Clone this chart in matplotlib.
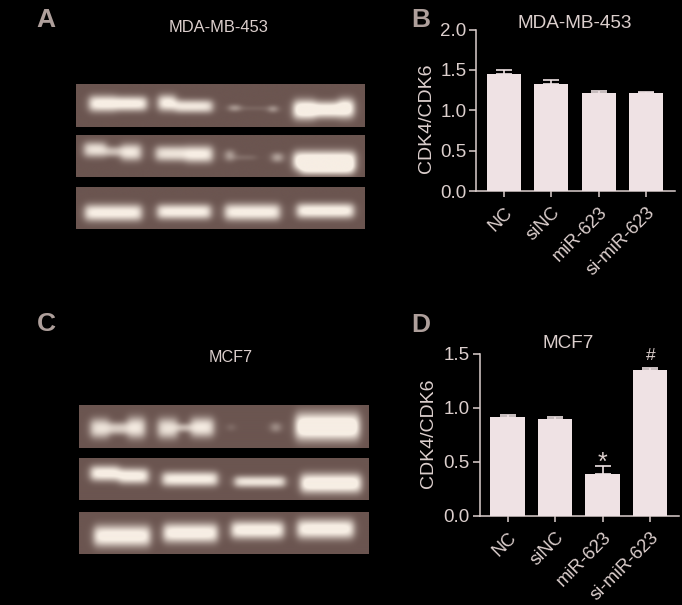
#!/usr/bin/env python

# Two western blot panels and two CDK4/CDK6 bar charts, white on black
import numpy as np
import matplotlib
matplotlib.use('Agg')
import matplotlib.pyplot as plt
from matplotlib.colors import LinearSegmentedColormap

W, H = 682, 605

groups = ['NC', 'siNC', 'miR-623', 'si-miR-623']
mda_values = [1.45, 1.33, 1.21, 1.21]
mda_errors = [0.05, 0.04, 0.03, 0.02]
mcf_values = [0.91, 0.90, 0.39, 1.35]
mcf_errors = [0.02, 0.01, 0.07, 0.02]
mda_ticks = [0.0, 0.5, 1.0, 1.5, 2.0]
mcf_ticks = [0.0, 0.5, 1.0, 1.5]

# Blot bands: x start, x end, y centre, half height, brightness (3x zoom pixels)
mda_blots = [
    [(40, 120, 58, 19, 1.1), (120, 212, 58, 17, 1.1), (248, 300, 56, 19, 1.1),
     (300, 410, 66, 15, 1.0), (462, 492, 71, 7, 0.6), (495, 575, 72, 3, 0.2),
     (582, 603, 74, 7, 0.7), (655, 720, 76, 23, 1.3), (720, 790, 76, 19, 1.2),
     (790, 835, 72, 23, 1.3)],
    [(25, 90, 44, 18, 0.95), (90, 135, 50, 12, 0.7), (135, 195, 52, 20, 1.0),
     (240, 330, 56, 18, 0.95), (330, 410, 58, 20, 1.05), (452, 473, 62, 13, 0.7),
     (475, 540, 68, 5, 0.2), (592, 620, 68, 11, 0.65), (655, 840, 78, 23, 1.3),
     (675, 835, 106, 14, 0.65)],
    [(27, 197, 78, 20, 1.05), (245, 405, 75, 18, 1.05), (448, 613, 76, 20, 1.05),
     (665, 835, 72, 18, 1.1)],
]
mcf_blots = [
    [(35, 90, 69, 23, 0.95), (90, 145, 69, 14, 0.8), (145, 197, 67, 25, 1.0),
     (237, 295, 69, 24, 0.95), (295, 335, 67, 9, 0.7), (335, 403, 66, 23, 1.0),
     (449, 463, 66, 8, 0.3), (578, 602, 66, 11, 0.5), (650, 840, 64, 32, 1.3)],
    [(35, 120, 48, 18, 1.1), (120, 207, 56, 18, 1.1), (250, 415, 65, 17, 1.05),
     (467, 617, 73, 13, 1.0), (665, 845, 78, 23, 1.2)],
    [(45, 213, 74, 25, 1.1), (253, 415, 65, 23, 1.1), (457, 613, 56, 21, 1.1),
     (655, 823, 53, 23, 1.1)],
]

# Blot frames in image pixels: left, top, right, bottom
mda_frames = [(76, 84, 365, 127), (76, 135, 365, 177), (76, 187, 365, 229)]
mcf_frames = [(79, 405, 369, 448), (79, 458, 369, 500), (79, 512, 369, 554)]

fg = '#DCCFCD'
bar_colour = '#EFE2E4'
letter_colour = '#AE9F9B'

plt.rcParams['font.family'] = ['Liberation Sans', 'DejaVu Sans']
fig = plt.figure(figsize=(W/100, H/100), dpi=100, facecolor='black')
blot_cmap = LinearSegmentedColormap.from_list('blot', ['#6B5550', '#F7EEE4'])

# Small kernel to soften the bands like a scanned film
kernel = np.exp(-0.5*(np.arange(-15, 16)/5.0)**2)
kernel = kernel/kernel.sum()


def px_axes(left, top, right, bottom):
    return fig.add_axes([left/W, 1-bottom/H, (right-left)/W, (bottom-top)/H])


def px_text(x, y, s, size, colour=fg, **kw):
    fig.text(x/W, 1-y/H, s, fontsize=size, color=colour,
             ha='center', va='center', **kw)


def draw_blot(frame, bands):
    ax = px_axes(*frame)
    xx, yy = np.meshgrid(np.arange(870.0), np.arange(128.0))
    img = np.zeros(xx.shape)
    for x0, x1, yc, hh, peak in bands:
        across = 0.5*(np.tanh((xx-x0)/12.0)-np.tanh((xx-x1)/12.0))
        down = np.exp(-np.abs((yy-yc)/(1.25*hh))**2.5)
        img = img+peak*across*down
    img = np.apply_along_axis(lambda r: np.convolve(r, kernel, mode='same'), 1, img)
    img = np.apply_along_axis(lambda c: np.convolve(c, kernel, mode='same'), 0, img)
    ax.imshow(img, cmap=blot_cmap, vmin=0, vmax=1, aspect='auto')
    ax.axis('off')


def draw_bars(box, values, errors, ticks, ymax, xlim):
    ax = px_axes(*box)
    ax.set_facecolor('black')
    x = np.arange(len(groups))
    ax.errorbar(x, values, yerr=[np.zeros(len(x)), errors], fmt='none',
                ecolor=bar_colour, elinewidth=1.2, capsize=5.8, capthick=1.2,
                zorder=2)
    ax.bar(x, values, width=0.72, color=bar_colour, zorder=3)
    ax.set_xlim(*xlim)
    ax.set_ylim(0, ymax)
    ax.set_yticks(ticks)
    ax.set_yticklabels(['%.1f' % t for t in ticks])
    ax.set_xticks(x)
    ax.set_xticklabels(groups, rotation=45, ha='right', rotation_mode='anchor')
    ax.tick_params(axis='y', colors=fg, labelsize=13.5, length=5, width=1.1, pad=2)
    ax.tick_params(axis='x', colors=fg, labelsize=13.2, length=4.5, width=1.1, pad=5)
    for side in ['top', 'right']:
        ax.spines[side].set_visible(False)
    for side in ['left', 'bottom']:
        ax.spines[side].set_color(fg)
        ax.spines[side].set_linewidth(1.1)
    return ax


for frame, bands in zip(mda_frames, mda_blots):
    draw_blot(frame, bands)
for frame, bands in zip(mcf_frames, mcf_blots):
    draw_blot(frame, bands)

draw_bars((476, 29.5, 675, 191), mda_values, mda_errors, mda_ticks, 2.0, (-0.584, 3.61))
draw_bars((479.5, 353.7, 679, 515.7), mcf_values, mcf_errors, mcf_ticks, 1.5, (-0.59, 3.61))

# Panel letters
for x, y, s in [(46, 20, 'A'), (421, 20, 'B'), (46, 324, 'C'), (421, 325, 'D')]:
    px_text(x, y, s, 19, colour=letter_colour, fontweight='bold')

# Titles
px_text(219, 28, 'MDA-MB-453', 11.9)
px_text(575, 23, 'MDA-MB-453', 13.7)
px_text(231, 358, 'MCF7', 11.6)
px_text(568, 343, 'MCF7', 13.6)

# Axis titles and significance marks
px_text(426, 118, 'CDK4/CDK6', 14, rotation=90)
px_text(428, 433, 'CDK4/CDK6', 14, rotation=90)
px_text(602, 463, '*', 18)
px_text(651, 355, '#', 12.5)

fig.savefig('out.png', dpi=100, facecolor='black')
